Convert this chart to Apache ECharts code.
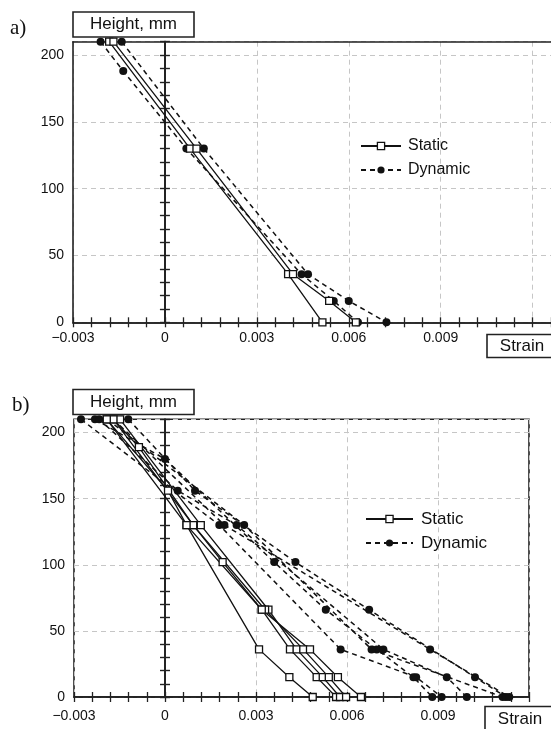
<!DOCTYPE html>
<html>
<head>
<meta charset="utf-8">
<style>
  html, body { margin: 0; padding: 0; background: #fff; }
  #chart { width: 551px; height: 729px; }
</style>
<script src="https://cdn.jsdelivr.net/npm/echarts@6/dist/echarts.min.js"></script>
</head>
<body>
<div id="chart"></div>
<script>
// Strain distribution over the specimen height, points are [strain, height in mm]

// a) static and dynamic profiles
const A_STATIC_1  = [[-0.00182, 210], [0.00082, 130], [0.00402, 36], [0.00514, 0]];
const A_STATIC_2  = [[-0.00168, 210], [0.00103, 130], [0.00418, 36], [0.00536, 16], [0.00623, 0]];
const A_DYNAMIC_1 = [[-0.00210, 210], [-0.00136, 188], [0.00070, 130], [0.00446, 36], [0.00551, 16], [0.00630, 0]];
const A_DYNAMIC_2 = [[-0.00141, 210], [0.00127, 130], [0.00467, 36], [0.00600, 16], [0.00723, 0]];

// b) static and dynamic profiles
const B_STATIC_1  = [[-0.00192, 210], [0.00010, 156], [0.00071, 130], [0.00310, 36], [0.00410, 15], [0.00487, 0]];
const B_STATIC_2  = [[-0.00170, 210], [-0.00086, 189], [0.00093, 130], [0.00190, 102], [0.00319, 66], [0.00412, 36], [0.00500, 15], [0.00564, 0]];
const B_STATIC_3  = [[-0.00148, 210], [0.00118, 130], [0.00341, 66], [0.00434, 36], [0.00520, 15], [0.00577, 0]];
const B_STATIC_4  = [[-0.00170, 210], [0.00093, 130], [0.00330, 66], [0.00456, 36], [0.00540, 15], [0.00597, 0]];
const B_STATIC_5  = [[-0.00192, 210], [0.00071, 130], [0.00319, 66], [0.00478, 36], [0.00570, 15], [0.00646, 0]];
const B_DYNAMIC_1 = [[-0.00277, 210], [0.00179, 130], [0.00579, 36], [0.00828, 15], [0.00912, 0]];
const B_DYNAMIC_2 = [[-0.00231, 210], [0.00000, 180], [0.00360, 102], [0.00530, 66], [0.00698, 36], [0.00819, 15], [0.00881, 0]];
const B_DYNAMIC_3 = [[-0.00217, 210], [0.00042, 156], [0.00236, 130], [0.00720, 36], [0.00929, 15], [0.00995, 0]];
const B_DYNAMIC_4 = [[-0.00190, 210], [0.00261, 130], [0.00681, 36], [0.01113, 0]];
const B_DYNAMIC_5 = [[-0.00121, 210], [0.00099, 156], [0.00430, 102], [0.00673, 66], [0.01022, 15], [0.01124, 0]];
const B_DYNAMIC_6 = [[-0.00170, 210], [0.00196, 130], [0.00874, 36], [0.01135, 0]];

// labelled ticks
const STRAIN_TICKS = [-0.003, 0, 0.003, 0.006, 0.009];
const HEIGHT_TICKS = [0, 50, 100, 150, 200];

const FONT = '"Liberation Sans", Arial, sans-serif';
const INK = '#111';
const FRAME = { color: '#222', width: 1.6 };

function strainLabel(v) {
  const hit = STRAIN_TICKS.find(t => Math.abs(t - v) < 1e-9);
  if (hit === undefined) return '';
  if (hit === 0) return '0';
  return (hit < 0 ? '\u2212' : '') + Math.abs(hit).toFixed(3);
}
function heightLabel(v) {
  return HEIGHT_TICKS.includes(Math.round(v)) && Math.abs(v - Math.round(v)) < 1e-9 ? String(Math.round(v)) : '';
}

// panel a is open on the right (it runs to the page edge), panel b is a closed box
const panels = [
  { grid: { left: 73, top: 41.7, width: 478, height: 280.6 }, xMax: 0.0126, labelMargin: 9, closed: false,
    statics: [A_STATIC_1, A_STATIC_2], dynamics: [A_DYNAMIC_1, A_DYNAMIC_2] },
  { grid: { left: 74, top: 419.3, width: 455, height: 277.7 }, xMax: 0.012, labelMargin: 12, closed: true,
    statics: [B_STATIC_1, B_STATIC_2, B_STATIC_3, B_STATIC_4, B_STATIC_5],
    dynamics: [B_DYNAMIC_1, B_DYNAMIC_2, B_DYNAMIC_3, B_DYNAMIC_4, B_DYNAMIC_5, B_DYNAMIC_6] }
];

const grid = [], xAxis = [], yAxis = [], series = [];
const dashed = { show: true, lineStyle: { color: '#c6c6c6', type: [5, 4], width: 1 } };

panels.forEach((p, gi) => {
  grid.push(Object.assign({ show: p.closed, borderColor: FRAME.color, borderWidth: FRAME.width,
                            backgroundColor: 'transparent' }, p.grid));
  const xBase = xAxis.length, yBase = yAxis.length;

  // strain axes: labels + grid lines, then two tick axes (down and up)
  xAxis.push({
    type: 'value', gridIndex: gi, min: -0.003, max: p.xMax, interval: 0.003, position: 'bottom',
    axisLine: { show: false, onZero: false }, axisTick: { show: false },
    splitLine: dashed,
    axisLabel: { formatter: strainLabel, color: INK, fontFamily: FONT, fontSize: 14, margin: p.labelMargin, showMaxLabel: false }
  });
  [false, true].forEach(inside => xAxis.push({
    type: 'value', gridIndex: gi, min: -0.003, max: p.xMax, interval: 0.0006, position: 'bottom',
    axisLine: { show: true, onZero: false, lineStyle: FRAME },
    axisTick: { show: true, inside, length: 5, lineStyle: { color: '#222', width: 1.3 } },
    axisLabel: { show: false }, splitLine: { show: false }
  }));
  if (!p.closed) {
    // top edge of the open frame
    xAxis.push({
      type: 'value', gridIndex: gi, min: -0.003, max: p.xMax, position: 'top',
      axisLine: { show: true, onZero: false, lineStyle: FRAME },
      axisTick: { show: false }, axisLabel: { show: false }, splitLine: { show: false }
    });
  }

  // height axes: labels at the left edge, tick axes standing on zero strain
  yAxis.push({
    type: 'value', gridIndex: gi, min: 0, max: 210, interval: 50, position: 'left',
    axisLine: { show: !p.closed, onZero: false, lineStyle: FRAME }, axisTick: { show: false },
    splitLine: dashed,
    axisLabel: { formatter: heightLabel, color: INK, fontFamily: FONT, fontSize: 14, margin: 9 }
  });
  [false, true].forEach(inside => yAxis.push({
    type: 'value', gridIndex: gi, min: 0, max: 210, interval: 10, position: 'left',
    axisLine: { show: true, onZero: true, lineStyle: { color: '#222', width: 1.8 } },
    axisTick: { show: true, inside, length: 5, lineStyle: { color: '#222', width: 1.4 } },
    axisLabel: { show: false }, splitLine: { show: false }
  }));

  p.statics.forEach(pts => series.push({
    name: 'Static', type: 'line', xAxisIndex: xBase, yAxisIndex: yBase, data: pts, clip: false,
    symbol: 'rect', symbolSize: 7, z: 3,
    itemStyle: { color: '#fff', borderColor: INK, borderWidth: 1.3 },
    lineStyle: { color: INK, width: 1.3, type: 'solid' },
    emphasis: { disabled: true }, animation: false
  }));
  p.dynamics.forEach(pts => series.push({
    name: 'Dynamic', type: 'line', xAxisIndex: xBase, yAxisIndex: yBase, data: pts, clip: false,
    symbol: 'circle', symbolSize: 8, z: 2,
    itemStyle: { color: INK },
    lineStyle: { color: INK, width: 1.5, type: [5, 4] },
    emphasis: { disabled: true }, animation: false
  }));
});

function legendItem(name, left, centerY, itemWidth, fontSize, gap) {
  return {
    data: [name], left, top: centerY - 10, orient: 'vertical', padding: 0,
    itemWidth, itemHeight: 9, selectedMode: false,
    itemStyle: { borderWidth: name === 'Static' ? 1.3 : 0 },
    textStyle: { fontFamily: FONT, fontSize, lineHeight: 20, color: INK, padding: [0, 0, 0, gap] }
  };
}

function box(x, y, w, h, text, fontSize) {
  return [
    { type: 'rect', z: 100, shape: { x, y, width: w, height: h },
      style: { fill: '#fff', stroke: '#222', lineWidth: 1.6 } },
    { type: 'text', z: 101, x: x + w / 2, y: y + h / 2,
      style: { text, font: fontSize + 'px ' + FONT, fill: INK, align: 'center', verticalAlign: 'middle',
               textAlign: 'center', textVerticalAlign: 'middle' } }
  ];
}
function tag(text, x, y) {
  return { type: 'text', z: 101, x, y,
    style: { text, font: '21px "Liberation Serif", "Times New Roman", serif', fill: INK,
             align: 'left', verticalAlign: 'middle', textAlign: 'left', textVerticalAlign: 'middle' } };
}

const chart = echarts.init(document.getElementById('chart'), null, { renderer: 'canvas' });
chart.setOption({
  animation: false,
  backgroundColor: '#fff',
  grid, xAxis, yAxis, series,
  legend: [
    legendItem('Static', 360, 146, 40, 16, 2),
    legendItem('Dynamic', 360, 170, 40, 16, 2),
    legendItem('Static', 365, 519, 47, 17, 3),
    legendItem('Dynamic', 365, 543, 47, 17, 3)
  ],
  graphic: [
    ...box(73, 12, 121, 25, 'Height, mm', 17),
    ...box(487, 334.5, 70, 23, 'Strain', 17),
    ...box(73, 389.5, 121, 25, 'Height, mm', 17),
    ...box(485, 706.5, 70, 25, 'Strain', 17),
    tag('a)', 10, 28),
    tag('b)', 12, 405)
  ]
});
</script>
</body>
</html>
